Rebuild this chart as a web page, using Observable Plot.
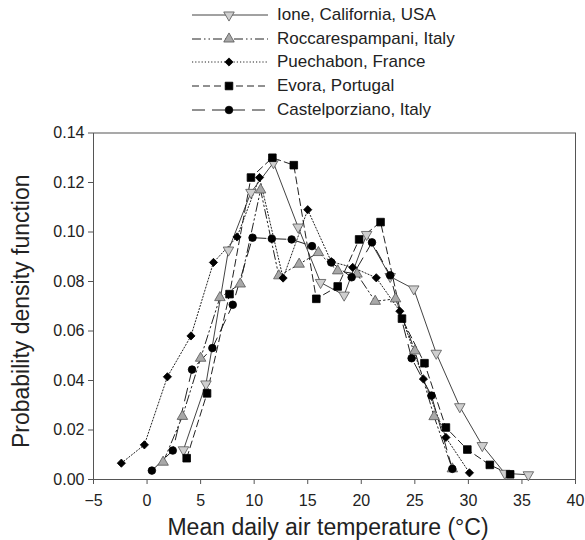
<!DOCTYPE html>
<html><head><meta charset="utf-8">
<script src="https://cdn.jsdelivr.net/npm/d3@7"></script>
<script src="https://cdn.jsdelivr.net/npm/@observablehq/plot@0.6"></script>
<style>
body{margin:0;background:#fff;font-family:"Liberation Sans",Arial,Helvetica,sans-serif;}
#legend{position:relative;width:585px;height:120px;}
.row{position:absolute;left:192px;height:24px;display:flex;align-items:center;font-size:17px;color:#222;white-space:nowrap;}
.row svg{margin-right:9px;display:block}
</style></head><body>
<div id="legend"></div><div id="chart"></div>
<script>
// ---- data ----
const seriesNames = ["Ione, California, USA","Roccarespampani, Italy","Puechabon, France","Evora, Portugal","Castelporziano, Italy"];
const ioneX  = [3.4,5.5,7.6,9.7,11.8,14.1,16.2,18.4,20.5,22.7,24.9,27.0,29.2,31.3,33.4,35.6];
const ioneY  = [0.012,0.0386,0.0927,0.116,0.128,0.102,0.0796,0.0745,0.0990,0.082,0.077,0.051,0.0294,0.0137,0.0025,0.0019];
const roccaX = [1.5,3.3,5.0,6.8,8.7,10.6,12.3,14.2,16.0,17.8,19.6,21.3,23.2,25.0,26.8,28.5];
const roccaY = [0.007,0.0255,0.049,0.0735,0.079,0.117,0.0823,0.087,0.0917,0.0843,0.083,0.072,0.073,0.052,0.0254,0.0043];
const puechX = [-2.4,-0.25,1.9,4.1,6.2,8.4,10.5,12.7,15.0,17.2,19.2,21.4,23.6,25.8,27.9,30.1];
const puechY = [0.0066,0.014,0.0415,0.058,0.0877,0.098,0.122,0.0814,0.109,0.088,0.0857,0.0815,0.068,0.0406,0.017,0.0027];
const evoraX = [3.7,5.6,7.7,9.7,11.7,13.7,15.8,17.8,19.8,21.8,23.8,25.9,27.9,29.9,32.0,33.9];
const evoraY = [0.0086,0.0348,0.0749,0.122,0.130,0.127,0.073,0.078,0.097,0.104,0.065,0.047,0.021,0.0121,0.0059,0.0021];
const castX  = [0.45,2.4,4.2,6.1,8.0,9.85,11.65,13.5,15.4,17.2,19.1,21.0,22.7,24.7,26.55,28.5];
const castY  = [0.0036,0.0117,0.0444,0.0531,0.0706,0.0977,0.0973,0.097,0.0943,0.0877,0.0817,0.0958,0.0825,0.049,0.0339,0.0043];
const xTicks = [-5,0,5,10,15,20,25,30,35,40];
const yTicks = [0,0.02,0.04,0.06,0.08,0.10,0.12,0.14];
const xTitle = "Mean daily air temperature (°C)";
const yTitle = "Probability density function";

// ---- styles ----
const styles = [
  {xs:ioneX, ys:ioneY, symbol:"triangle", d3sym:d3.symbolTriangle, rotate:180, r:3.9, fill:"#cfcfcf", mstroke:"#555", lstroke:"#444", dash:null},
  {xs:roccaX, ys:roccaY, symbol:"triangle", d3sym:d3.symbolTriangle, rotate:0, r:3.9, fill:"#a8a8a8", mstroke:"#555", lstroke:"#222", dash:"9,3,1.5,3,1.5,3"},
  {xs:puechX, ys:puechY, symbol:"diamond2", d3sym:d3.symbolDiamond2, rotate:0, r:3.7, fill:"#000", mstroke:"#000", lstroke:"#222", dash:"1.2,2"},
  {xs:evoraX, ys:evoraY, symbol:"square", d3sym:d3.symbolSquare, rotate:0, r:4.3, fill:"#000", mstroke:"#000", lstroke:"#222", dash:"7,4"},
  {xs:castX, ys:castY, symbol:"circle", d3sym:d3.symbolCircle, rotate:0, r:3.8, fill:"#000", mstroke:"#000", lstroke:"#222", dash:"13,7"}
];

// ---- legend ----
const legend = document.getElementById("legend");
seriesNames.forEach((name, i) => {
  const s = styles[i];
  const row = document.createElement("div");
  row.className = "row";
  row.style.top = (3 + i * 23.7) + "px";
  const ns = "http://www.w3.org/2000/svg";
  const svg = document.createElementNS(ns, "svg");
  svg.setAttribute("width", 76); svg.setAttribute("height", 24);
  const ln = document.createElementNS(ns, "line");
  ln.setAttribute("x1", 0); ln.setAttribute("x2", 76); ln.setAttribute("y1", 12); ln.setAttribute("y2", 12);
  ln.setAttribute("stroke", s.lstroke); ln.setAttribute("stroke-width", 1);
  if (s.dash) ln.setAttribute("stroke-dasharray", s.dash);
  svg.appendChild(ln);
  const p = document.createElementNS(ns, "path");
  p.setAttribute("d", d3.symbol(s.d3sym, Math.PI * s.r * s.r)());
  p.setAttribute("transform", `translate(37,12) rotate(${s.rotate})`);
  p.setAttribute("fill", s.fill); p.setAttribute("stroke", s.mstroke); p.setAttribute("stroke-width", 0.8);
  svg.appendChild(p);
  row.appendChild(svg);
  const t = document.createElement("span");
  t.textContent = name;
  row.appendChild(t);
  legend.appendChild(row);
});

// ---- chart ----
const lineMarks = [], dotMarks = [];
styles.forEach((s, i) => {
  const data = s.xs.map((x, j) => ({series: seriesNames[i], x, y: s.ys[j]}));
  lineMarks.push(Plot.line(data, {x:"x", y:"y", stroke:s.lstroke, strokeWidth:1, strokeDasharray:s.dash ?? undefined}));
  dotMarks.push(Plot.dot(data, {x:"x", y:"y", symbol:s.symbol, r:s.r, fill:s.fill, stroke:s.mstroke, strokeWidth:0.8, rotate:s.rotate}));
});

const chart = Plot.plot({
  width: 585, height: 420,
  marginTop: 12.5, marginBottom: 61, marginLeft: 93, marginRight: 10,
  style: {fontFamily: '"Liberation Sans", Arial, Helvetica, sans-serif', fontSize: "16px", color: "#222", background: "#fff"},
  x: {domain: [-5, 40]},
  y: {domain: [0, 0.14]},
  marks: [
    Plot.axisX({ticks: xTicks, tickSize: 5, tickPadding: 10, fontSize: 16, stroke: "#555", label: null,
      tickFormat: d => d < 0 ? "\u2212" + (-d) : String(d)}),
    Plot.axisY({ticks: yTicks, tickSize: 5, tickPadding: 4, fontSize: 16, stroke: "#555", label: null,
      tickFormat: d3.format(".2f")}),
    Plot.frame({stroke: "#555"}),
    ...lineMarks,
    ...dotMarks,
    Plot.text([xTitle], {text: d => d, frameAnchor: "bottom", textAnchor: "middle", lineAnchor: "middle", dy: 48.6, dx: -6.5, fontSize: 23, fill: "#222"}),
    Plot.text([yTitle], {text: d => d, frameAnchor: "left", textAnchor: "middle", lineAnchor: "middle", rotate: -90, dx: -71.5, dy: 5, fontSize: 23, fill: "#222"})
  ]
});
document.getElementById("chart").appendChild(chart);
</script>
</body></html>
